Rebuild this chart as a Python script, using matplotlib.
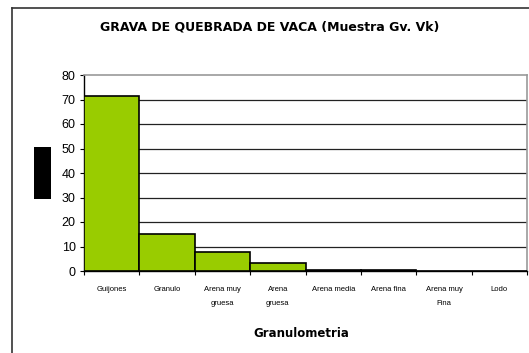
import matplotlib
matplotlib.use("Agg")
import matplotlib.pyplot as plt
from matplotlib.patches import Rectangle
from matplotlib.lines import Line2D
import numpy as np

plt.rcParams['font.family'] = ['Liberation Sans', 'DejaVu Sans']

categorias = ['Guijones', 'Granulo', 'Arena muy\ngruesa', 'Arena\ngruesa',
              'Arena media', 'Arena fina', 'Arena muy\nFina', 'Lodo']
porcentaje = [71.5, 15.2, 7.9, 3.2, 0.6, 0.6, 0.0, 0.0]

W, H = 529, 353
fig = plt.figure(figsize=(W / 100, H / 100), dpi=100)
ax = fig.add_axes([84 / W, 1 - 271 / H, (527 - 84) / W, (271 - 75) / H])

x = np.arange(len(categorias))
ax.bar(x, porcentaje, width=1.0, color='#99CC00', edgecolor='black',
       linewidth=1.2, zorder=3)

ax.set_xlim(-0.5, len(categorias) - 0.5)
ax.set_ylim(0, 80)
ax.set_yticks(range(0, 81, 10))
ax.tick_params(axis='y', labelsize=9, length=3, width=0.8, pad=3)
for v in range(10, 80, 10):
    ax.axhline(v, color='#222222', linewidth=0.9, zorder=1)

# ticks on category boundaries, labels at centres
ax.set_xticks(np.arange(-0.5, len(categorias), 1.0))
ax.set_xticklabels([])
ax.set_xticks(x, minor=True)
ax.set_xticklabels(categorias, minor=True, fontsize=5.5, linespacing=2.5)
ax.tick_params(axis='x', which='major', length=3, width=0.8)
ax.tick_params(axis='x', which='minor', length=0, pad=10.5)

for s in ['top', 'right']:
    ax.spines[s].set_color('#999999')
    ax.spines[s].set_linewidth(1.2)
for s in ['left', 'bottom']:
    ax.spines[s].set_color('black')
    ax.spines[s].set_linewidth(1.0)

ax.set_xlabel('Granulometria', fontsize=8.5, fontweight='bold',
              family='DejaVu Sans')
ax.xaxis.set_label_coords(0.49, -0.285)

fig.text(270 / W, 1 - 27 / H, 'GRAVA DE QUEBRADA DE VACA (Muestra Gv. Vk)',
         ha='center', va='center', fontsize=9, fontweight='bold',
         family='DejaVu Sans')

# marco exterior
fig.add_artist(Line2D([12 / W, 12 / W], [0, 1 - 8 / H], color='#333333', linewidth=1.2))
fig.add_artist(Line2D([12 / W, 1], [1 - 8 / H, 1 - 8 / H], color='#333333', linewidth=1.2))

# bloque negro junto al eje y
fig.add_artist(Rectangle((34 / W, 1 - 199 / H), 17 / W, 52 / H,
                         transform=fig.transFigure, facecolor='black', edgecolor='none'))

fig.savefig('out.png', dpi=100)
